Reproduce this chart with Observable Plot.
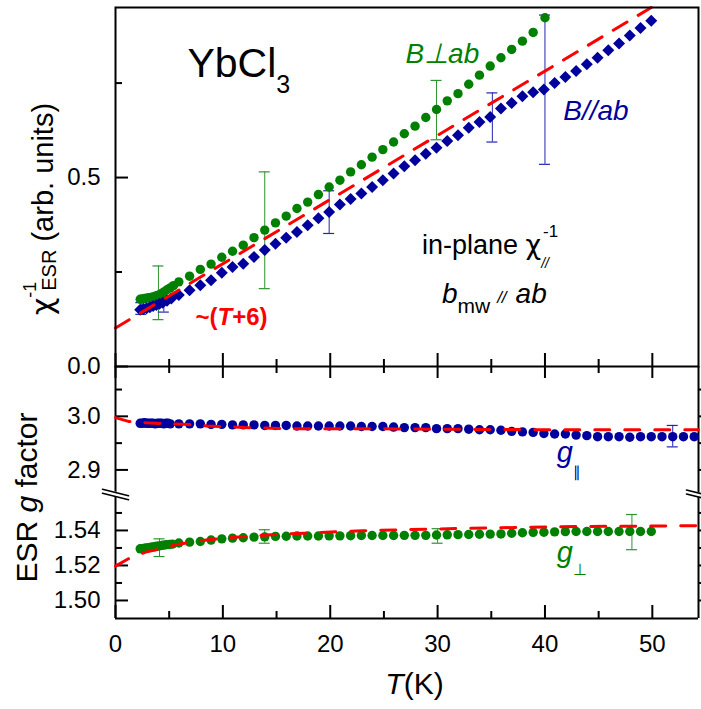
<!DOCTYPE html>
<html>
<head>
<meta charset="utf-8">
<script src="https://cdn.jsdelivr.net/npm/d3@7"></script>
<script src="https://cdn.jsdelivr.net/npm/@observablehq/plot@0.6"></script>
<style>
  html, body { margin: 0; padding: 0; background: #fff; }
  #chart { position: relative; width: 701px; height: 709px; overflow: hidden; }
  #chart svg { position: absolute; left: 0; top: 0; }
</style>
</head>
<body>
<div id="chart"></div>
<script>
// ---------------- data ----------------
// top panel: inverse ESR susceptibility
const chiPerpT = [2.3,2.5,2.7,2.9,3.1,3.3,3.5,3.7,3.9,4.1,4.3,4.5,4.8,5.1,5.4,
  5.9,6.9,7.9,8.9,9.9,10.9,11.9,12.9,13.9,14.9,15.9,16.9,17.9,18.9,19.9,20.9,21.9,22.9,23.9,24.9,
  25.9,26.9,27.9,28.9,29.9,30.9,31.9,32.9,33.9,34.9,35.9,36.9,37.9,38.9,40.0];
const chiPerp = [0.178,0.179,0.180,0.181,0.182,0.183,0.184,0.186,0.188,0.190,0.193,0.197,0.203,0.208,0.214,
  0.224,0.239,0.257,0.271,0.289,0.305,0.321,0.341,0.361,0.380,0.398,0.418,0.435,0.455,0.475,0.493,0.515,0.534,0.554,0.574,
  0.594,0.616,0.636,0.659,0.680,0.703,0.722,0.747,0.771,0.795,0.817,0.839,0.861,0.884,0.923];

const chiParT = [2.3,2.6,2.9,3.2,3.5,3.8,4.1,4.4,4.8,5.2,
  5.9,6.9,7.9,8.9,9.9,10.9,11.9,12.9,13.9,14.9,15.9,16.9,17.9,18.9,19.9,20.9,21.9,22.9,23.9,24.9,
  25.9,26.9,27.9,28.9,29.9,30.9,31.9,32.9,33.9,34.9,35.9,36.9,37.9,38.9,39.9,40.9,41.9,42.9,43.9,44.9,
  45.9,46.9,47.9,48.9,49.9];
const chiPar = [0.150,0.152,0.154,0.157,0.160,0.163,0.166,0.169,0.174,0.180,
  0.189,0.202,0.215,0.228,0.248,0.263,0.272,0.290,0.308,0.325,0.341,0.356,0.374,0.392,0.409,0.429,0.443,0.458,0.475,0.493,
  0.511,0.530,0.546,0.563,0.579,0.597,0.612,0.632,0.647,0.660,0.683,0.697,0.715,0.726,0.733,0.750,0.766,0.782,0.800,0.817,
  0.837,0.855,0.876,0.896,0.915];

const chiFitT = [0, 49.9];
const chiFit = [0.102, 0.95];

const chiPerpErrT = [4.0, 13.9, 29.9];
const chiPerpErrLo = [0.124, 0.206, 0.600];
const chiPerpErrHi = [0.266, 0.515, 0.757];

const chiParErrT = [2.4, 4.5, 19.9, 35.1, 40.0];
const chiParErrLo = [0.138, 0.144, 0.352, 0.594, 0.535];
const chiParErrHi = [0.169, 0.197, 0.465, 0.724, 0.930];

// middle panel: g parallel
const gParT = [2.3,2.5,2.7,2.9,3.1,3.3,3.5,3.7,3.9,4.1,4.3,4.5,4.7,4.9,5.1,
  5.9,6.9,7.9,8.9,9.9,10.9,11.9,12.9,13.9,14.9,15.9,16.9,17.9,18.9,19.9,20.9,21.9,22.9,23.9,24.9,
  25.9,26.9,27.9,28.9,29.9,30.9,31.9,32.9,33.9,34.9,35.9,36.9,37.9,38.9,39.9,40.9,41.9,42.9,43.9,44.9,
  45.9,46.9,47.9,48.9,49.9,50.9,51.9,52.9,53.9];
const gPar = [2.987,2.987,2.988,2.987,2.987,2.987,2.987,2.986,2.987,2.987,2.987,2.986,2.987,2.987,2.986,
  2.986,2.986,2.986,2.985,2.985,2.984,2.984,2.984,2.983,2.983,2.983,2.982,2.982,2.982,2.982,2.982,2.982,2.981,2.981,2.981,
  2.980,2.979,2.979,2.979,2.977,2.977,2.977,2.976,2.975,2.975,2.974,2.972,2.971,2.970,2.968,2.967,2.967,2.965,2.964,2.962,
  2.962,2.962,2.961,2.962,2.962,2.962,2.962,2.962,2.962];
const gParFitT = [0, 1.2, 2.8, 4.2, 5.6, 7, 8.5, 10, 12, 14, 16, 18, 20, 23, 26, 30, 35, 40, 45, 50, 54.3];
const gParFit = [2.9975, 2.9905, 2.988, 2.9865, 2.9855, 2.9845, 2.982, 2.981, 2.979, 2.978, 2.977, 2.977, 2.977, 2.977, 2.9765, 2.976, 2.9755, 2.975, 2.975, 2.975, 2.975];
const gParErrT = [51.9];
const gParErrLo = [2.943];
const gParErrHi = [2.983];

// bottom panel: g perpendicular
const gPerpT = [2.3,2.5,2.7,2.9,3.1,3.3,3.5,3.7,3.9,4.1,4.4,4.7,5.0,5.3,
  5.9,6.9,7.9,8.9,9.9,10.9,11.9,12.9,13.9,14.9,15.9,16.9,17.9,18.9,19.9,20.9,21.9,22.9,23.9,24.9,
  25.9,26.9,27.9,28.9,29.9,30.9,31.9,32.9,33.9,34.9,35.9,36.9,37.9,38.9,39.9,40.9,41.9,42.9,43.9,44.9,
  45.9,46.9,47.9,48.9,49.9];
const gPerp = [1.5295,1.5296,1.5298,1.5300,1.5302,1.5304,1.5306,1.5308,1.5310,1.5312,1.5315,1.5318,1.5320,1.5322,
  1.5328,1.5333,1.5337,1.5345,1.5352,1.5356,1.5358,1.5362,1.5363,1.5366,1.5367,1.5368,1.5368,1.5368,1.5369,1.5369,1.5370,1.5371,1.5371,1.5371,
  1.5371,1.5372,1.5372,1.5372,1.5374,1.5375,1.5376,1.5377,1.5378,1.5379,1.5380,1.5384,1.5387,1.5389,1.5390,1.5392,1.5393,1.5394,1.5394,1.5394,
  1.5394,1.5394,1.5394,1.5394,1.5394];
const gPerpFitT = [0, 1.2, 2.8, 4.2, 5.6, 7, 8.5, 10, 11.5, 13, 14.5, 16, 17.5, 19, 20.5, 23, 26, 29, 32, 35, 38, 41, 44, 47, 50, 54.3];
const gPerpFit = [1.5196, 1.5238, 1.5276, 1.5295, 1.5318, 1.5333, 1.5345, 1.5355, 1.5363, 1.5369, 1.5375, 1.5380, 1.5384, 1.5388, 1.5392, 1.5398, 1.5403, 1.5407, 1.5411, 1.5414, 1.5418, 1.5421, 1.5423, 1.5424, 1.5425, 1.5427];
const gPerpErrT = [4.1, 13.9, 30.0, 48.1];
const gPerpErrLo = [1.5251, 1.5327, 1.5327, 1.5290];
const gPerpErrHi = [1.5352, 1.5404, 1.5410, 1.5491];

// ticks
const xTicks = [0, 10, 20, 30, 40, 50];
const xMinorTicks = [5, 15, 25, 35, 45];
const chiTicks = [0, 0.5];
const chiMinorTicks = [0.25, 0.75];
const gParTicks = [2.9, 3.0];
const gParMinorTicks = [2.95, 3.05];
const gPerpTicks = [1.50, 1.52, 1.54];
const gPerpMinorTicks = [1.51, 1.53, 1.55];

// ---------------- layout & style ----------------
const W = 701, H = 709;
const LEFT = 115, RIGHT = 698;
const xDomain = [0, 54.3];
const FONT = "'Liberation Sans', Arial, Helvetica, sans-serif";
const GREEN = "#008000", BLUE = "#00009c", RED = "#ff0000";
const ERR_GREEN = "#2f932f", ERR_BLUE = "#2424b4";

const kx = px => px * (xDomain[1] - xDomain[0]) / (RIGHT - LEFT);

const rich = {
  "YbCl3": 'YbCl<tspan dy="16" font-size="25">3</tspan>',
  "in-plane χ//-1": 'in-plane <tspan font-size="27" font-family="DejaVu Sans">χ</tspan><tspan dy="14" font-size="14" font-style="italic">//</tspan><tspan dx="-6" dy="-31" font-size="17">-1</tspan>',
  "bmw // ab": '<tspan font-style="italic">b</tspan><tspan dy="10" font-size="21">mw</tspan><tspan dx="7" dy="-10" font-size="17" font-style="italic">//</tspan><tspan dx="9" font-style="italic">ab</tspan>',
  "~(T+6)": '~(<tspan font-style="italic">T</tspan>+6)',
  "g∥": 'g<tspan dy="15" font-size="15" font-style="normal">∥</tspan>',
  "g⊥": 'g<tspan dy="13" font-size="16" font-style="normal">⊥</tspan>',
  "χESR-1 (arb. units)": '<tspan font-size="30" font-family="DejaVu Sans">χ</tspan><tspan dy="-17" font-size="18">-1</tspan><tspan dx="-9" dy="20" font-size="20">ESR</tspan><tspan dy="-3"> (arb. units)</tspan>',
  "ESR g factor": 'ESR <tspan font-style="italic">g</tspan> factor',
  "T(K)": '<tspan font-style="italic">T</tspan>(K)'
};

const rows = (T, V) => T.map((t, i) => ({T: t, v: V[i]}));
const errRows = (T, lo, hi) => T.map((t, i) => ({T: t, lo: lo[i], hi: hi[i]}));

function errMarks(data, color) {
  const cap = kx(5.5);
  return [
    Plot.ruleX(data, {x: "T", y1: "lo", y2: "hi", stroke: color, strokeWidth: 1}),
    Plot.ruleY(data, {y: "lo", x1: d => d.T - cap, x2: d => d.T + cap, stroke: color, strokeWidth: 1.2}),
    Plot.ruleY(data, {y: "hi", x1: d => d.T - cap, x2: d => d.T + cap, stroke: color, strokeWidth: 1.2})
  ];
}

function panel(top, bottom, yDomain, build) {
  const ky = px => px * (yDomain[1] - yDomain[0]) / (bottom - top);
  const svg = Plot.plot({
    width: W, height: H,
    marginLeft: LEFT, marginRight: W - RIGHT, marginTop: top, marginBottom: H - bottom,
    x: {domain: xDomain, axis: null},
    y: {domain: yDomain, axis: null},
    style: {background: "transparent", fontFamily: FONT, color: "black", overflow: "visible"},
    marks: build(ky, yDomain)
  });
  svg.querySelectorAll("text").forEach(t => {
    const key = t.textContent;
    if (rich[key] !== undefined) t.innerHTML = rich[key];
  });
  return svg;
}

function leftRightTicks(ky, major, minor) {
  return [
    Plot.ruleY(major, {y: d => d, x1: xDomain[0], x2: xDomain[0] + kx(13), strokeWidth: 2}),
    Plot.ruleY(minor, {y: d => d, x1: xDomain[0], x2: xDomain[0] + kx(7), strokeWidth: 2})
  ];
}
function rightOutTicks(major, minor) {
  return [
    Plot.ruleY(major.concat(minor), {y: d => d, x1: xDomain[1], x2: xDomain[1] + kx(4), strokeWidth: 2})
  ];
}

const chart = document.getElementById("chart");

// ---------------- top panel ----------------
chart.appendChild(panel(7, 366, [0, 0.95], (ky, yd) => [
  ...leftRightTicks(ky, chiTicks, chiMinorTicks),
  Plot.ruleX(xTicks, {x: d => d, y1: yd[0], y2: yd[0] + ky(13), strokeWidth: 2}),
  Plot.ruleX(xMinorTicks, {x: d => d, y1: yd[0], y2: yd[0] + ky(7), strokeWidth: 2}),
  Plot.axisY(chiTicks, {tickSize: 0, tickPadding: 15, fontSize: 24, tickFormat: d3.format(".1f"), label: null}),
  ...errMarks(errRows(chiPerpErrT, chiPerpErrLo, chiPerpErrHi), ERR_GREEN),
  ...errMarks(errRows(chiParErrT, chiParErrLo, chiParErrHi), ERR_BLUE),
  Plot.dot(rows(chiPerpT, chiPerp), {x: "T", y: "v", r: 4.7, fill: GREEN, stroke: "none"}),
  Plot.dot(rows(chiParT, chiPar), {x: "T", y: "v", symbol: "diamond2", r: 5.4, fill: BLUE, stroke: "none"}),
  Plot.line(rows(chiFitT, chiFit), {x: "T", y: "v", stroke: RED, strokeWidth: 3, strokeDasharray: "16,13"}),
  Plot.frame({stroke: "black", strokeWidth: 2}),
  Plot.text(["YbCl3"], {x: 6.7, y: 0.767, text: d => d, fontSize: 41, textAnchor: "start", lineAnchor: "bottom", fill: "black"}),
  Plot.text(["B⊥ab"], {x: 27.0, y: 0.802, text: d => d, fontSize: 28, fontStyle: "italic", textAnchor: "start", lineAnchor: "bottom", fill: GREEN}),
  Plot.text(["B//ab"], {x: 41.7, y: 0.651, text: d => d, fontSize: 28, fontStyle: "italic", textAnchor: "start", lineAnchor: "bottom", fill: BLUE}),
  Plot.text(["in-plane χ//-1"], {x: 28.55, y: 0.299, text: d => d, fontSize: 27, textAnchor: "start", lineAnchor: "bottom", fill: "black"}),
  Plot.text(["bmw // ab"], {x: 30.4, y: 0.169, text: d => d, fontSize: 28, textAnchor: "start", lineAnchor: "bottom", fill: "black"}),
  Plot.text(["~(T+6)"], {x: 7.45, y: 0.111, text: d => d, fontSize: 24, fontWeight: "bold", textAnchor: "start", lineAnchor: "bottom", fill: RED}),
  Plot.text(["χESR-1 (arb. units)"], {frameAnchor: "left", dx: -72, dy: 22, rotate: -90, text: d => d, fontSize: 29, textAnchor: "middle", lineAnchor: "middle", fill: "black"})
]));

// ---------------- middle panel (g parallel) ----------------
chart.appendChild(panel(366, 493, [2.856, 3.093], (ky, yd) => [
  Plot.ruleX([xDomain[0], xDomain[1]], {x: d => d, strokeWidth: 2}),
  ...leftRightTicks(ky, gParTicks, gParMinorTicks),
  ...rightOutTicks(gParTicks, gParMinorTicks),
  Plot.ruleX(xTicks, {x: d => d, y1: yd[1], y2: yd[1] - ky(12), strokeWidth: 2}),
  Plot.ruleX(xMinorTicks, {x: d => d, y1: yd[1], y2: yd[1] - ky(7), strokeWidth: 2}),
  Plot.axisY(gParTicks, {tickSize: 0, tickPadding: 15, fontSize: 24, tickFormat: d3.format(".1f"), label: null}),
  ...errMarks(errRows(gParErrT, gParErrLo, gParErrHi), ERR_BLUE),
  Plot.dot(rows(gParT, gPar), {x: "T", y: "v", r: 4.7, fill: BLUE, stroke: "none"}),
  Plot.line(rows(gParFitT, gParFit), {x: "T", y: "v", stroke: RED, strokeWidth: 3, strokeDasharray: "15,15"}),
  Plot.text(["g∥"], {x: 41.1, y: 2.914, text: d => d, fontSize: 29, fontStyle: "italic", textAnchor: "start", lineAnchor: "bottom", fill: BLUE}),
  Plot.text(["ESR g factor"], {frameAnchor: "left", dx: -88, dy: 67.5, rotate: -90, text: d => d, fontSize: 30, textAnchor: "middle", lineAnchor: "middle", fill: "black"})
]));

// ---------------- bottom panel (g perpendicular) ----------------
chart.appendChild(panel(493, 618, [1.4897, 1.5611], (ky, yd) => {
  const top = yd[1];
  // axis-break marks (pixel offsets converted to data units)
  const breakAt = (x0, xa, xb, yc) => [
    {T: x0 + kx(xa), a: top - ky(yc - 1.5 - xa * -0.25), b: top - ky(yc + 2.5 - xa * -0.25)},
    {T: x0 + kx(xb), a: top - ky(yc - 1.5 - xb * -0.25), b: top - ky(yc + 2.5 - xb * -0.25)}
  ];
  const leftBreak = breakAt(xDomain[0], -13, 13, 0.5);
  const rightBreak = breakAt(xDomain[1], -12, 6, 1);
  const breakMarks = br => [
    Plot.areaY(br, {x: "T", y1: "a", y2: "b", fill: "white", stroke: "white", strokeWidth: 1}),
    Plot.line(br, {x: "T", y: "a", stroke: "black", strokeWidth: 1.6}),
    Plot.line(br, {x: "T", y: "b", stroke: "black", strokeWidth: 1.6})
  ];
  return [
    Plot.ruleX([xDomain[0], xDomain[1]], {x: d => d, strokeWidth: 2}),
    Plot.ruleY([yd[0]], {y: d => d, strokeWidth: 2}),
    ...leftRightTicks(ky, gPerpTicks, gPerpMinorTicks),
    ...rightOutTicks(gPerpTicks, gPerpMinorTicks),
    Plot.ruleX(xTicks, {x: d => d, y1: yd[0], y2: yd[0] + ky(13), strokeWidth: 2}),
    Plot.ruleX(xMinorTicks, {x: d => d, y1: yd[0], y2: yd[0] + ky(7), strokeWidth: 2}),
    Plot.axisY(gPerpTicks, {tickSize: 0, tickPadding: 15, fontSize: 24, tickFormat: d3.format(".2f"), label: null}),
    Plot.axisX(xTicks, {anchor: "bottom", tickSize: 0, tickPadding: 16, fontSize: 24, tickFormat: d3.format("d"), label: null}),
    ...errMarks(errRows(gPerpErrT, gPerpErrLo, gPerpErrHi), ERR_GREEN),
    Plot.dot(rows(gPerpT, gPerp), {x: "T", y: "v", r: 4.7, fill: GREEN, stroke: "none"}),
    Plot.line(rows(gPerpFitT, gPerpFit), {x: "T", y: "v", stroke: RED, strokeWidth: 3, strokeDasharray: "15,15"}),
    ...breakMarks(leftBreak),
    ...breakMarks(rightBreak),
    Plot.text(["g⊥"], {x: 41.1, y: 1.5219, text: d => d, fontSize: 29, fontStyle: "italic", textAnchor: "start", lineAnchor: "bottom", fill: GREEN}),
    Plot.text(["T(K)"], {frameAnchor: "bottom", dx: 7.5, dy: 75, text: d => d, fontSize: 30, textAnchor: "middle", lineAnchor: "bottom", fill: "black"})
  ];
}));
</script>
</body>
</html>
